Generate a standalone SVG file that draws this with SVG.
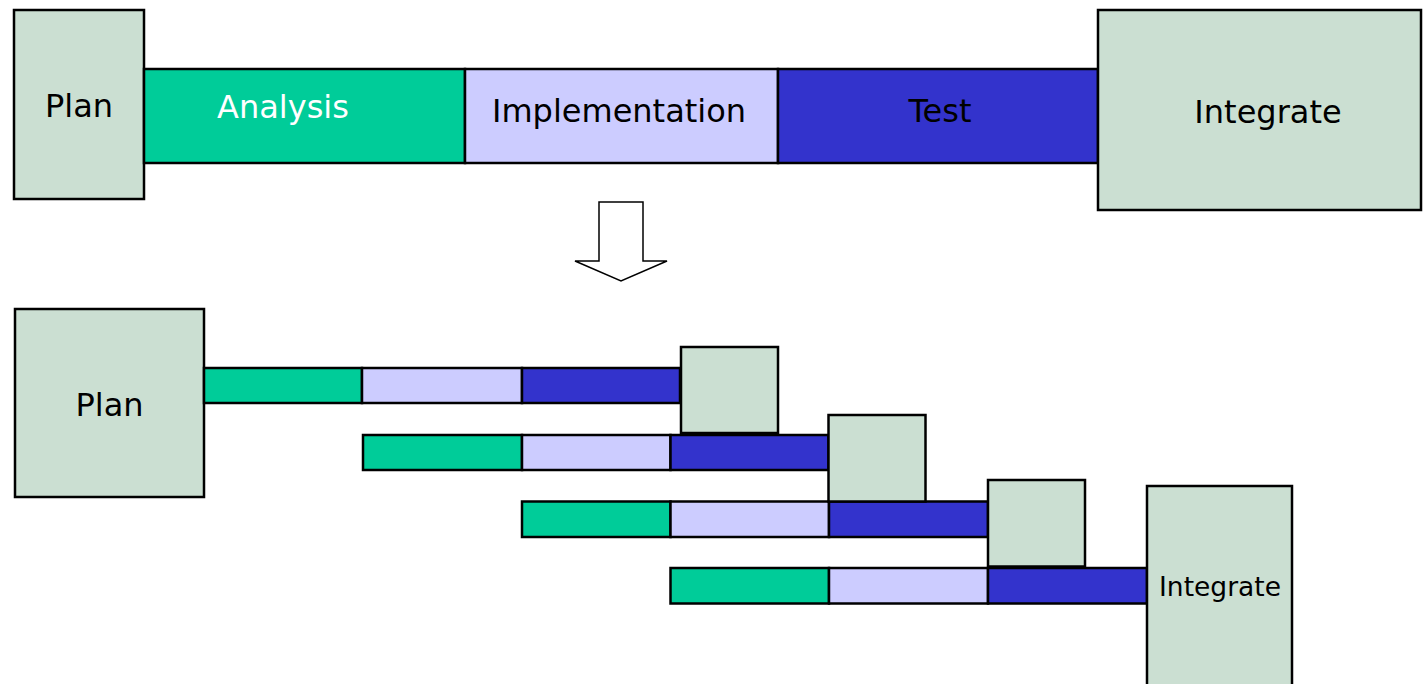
<svg xmlns="http://www.w3.org/2000/svg" width="1423" height="684" viewBox="0 0 1423 684">
<style>
rect{stroke:#000;stroke-width:2.5}
.box{fill:#CBDFD2}
.an{fill:#00CC99}
.im{fill:#CCCCFF}
.te{fill:#3333CC}
text{font-family:"DejaVu Sans","Liberation Sans",sans-serif;font-size:32px;text-anchor:middle;fill:#000}
.w{fill:#fff}
</style>
<rect width="1423" height="684" fill="#fff" style="stroke:none"/>
<g id="top-plan"><rect class="box" x="14" y="10" width="130" height="189"/><text x="79" y="117">Plan</text></g>
<g id="top-analysis"><rect class="an" x="144" y="69" width="321" height="94"/><text class="w" x="283" y="118">Analysis</text></g>
<g id="top-implementation"><rect class="im" x="465" y="69" width="313" height="94"/><text x="619" y="122">Implementation</text></g>
<g id="top-test"><rect class="te" x="778" y="69" width="320" height="94"/><text x="940" y="122">Test</text></g>
<g id="top-integrate"><rect class="box" x="1098" y="10" width="323" height="200"/><text x="1268" y="123">Integrate</text></g>
<g id="connectors"><path d="M599,202 H643 V261 H667 L621,281 L575,261 H599 Z" fill="#fff" stroke="#000" stroke-width="1.5"/></g>
<g id="bottom-plan"><rect class="box" x="15" y="309" width="189" height="188"/><text x="109.5" y="416">Plan</text></g>
<g id="row1">
<rect class="an" x="204" y="368" width="158" height="35"/>
<rect class="im" x="362" y="368" width="160" height="35"/>
<rect class="te" x="522" y="368" width="158" height="35"/>
</g>
<g id="row2">
<rect class="an" x="363" y="435" width="159" height="35"/>
<rect class="im" x="522" y="435" width="148.5" height="35"/>
<rect class="te" x="670.5" y="435" width="158" height="35"/>
</g>
<g id="row3">
<rect class="an" x="522" y="501.5" width="148.5" height="35.5"/>
<rect class="im" x="670.5" y="501.5" width="158.5" height="35.5"/>
<rect class="te" x="829" y="501.5" width="159" height="35.5"/>
</g>
<g id="row4">
<rect class="an" x="670.5" y="568" width="158.5" height="35.5"/>
<rect class="im" x="829" y="568" width="159" height="35.5"/>
<rect class="te" x="988" y="568" width="159" height="35.5"/>
</g>
<g id="integrate-1"><rect class="box" x="681" y="347" width="97" height="86"/></g>
<g id="integrate-2"><rect class="box" x="828.5" y="415" width="97" height="86.5"/></g>
<g id="integrate-3"><rect class="box" x="988" y="480" width="97" height="86.5"/></g>
<g id="bottom-integrate"><rect class="box" x="1147" y="486" width="145" height="210"/><text x="1220" y="596" style="font-size:26.5px">Integrate</text></g>
</svg>
